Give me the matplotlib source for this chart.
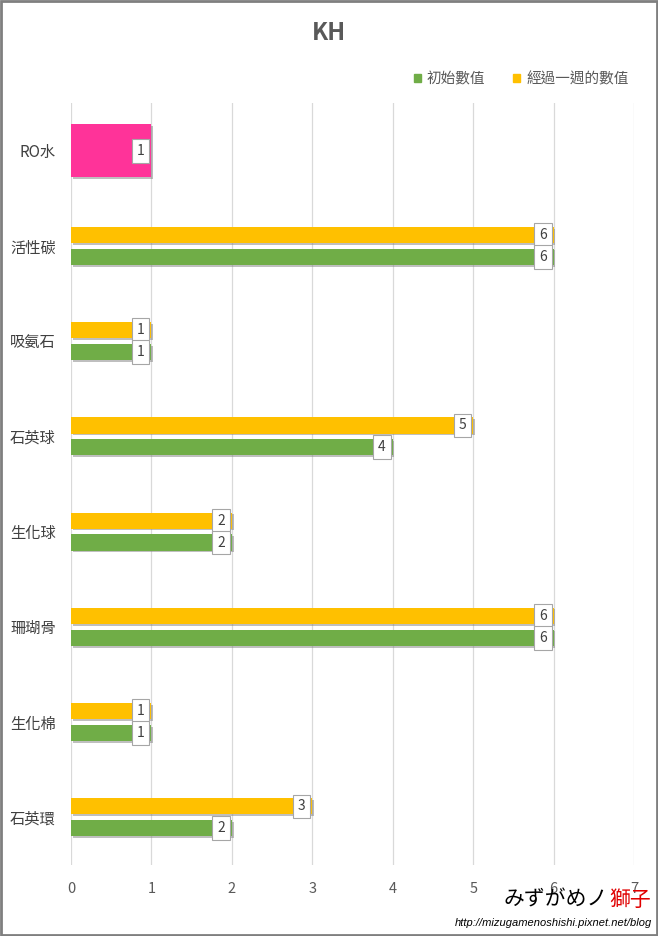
import numpy as np
import matplotlib
matplotlib.use("Agg")
import matplotlib.pyplot as plt
import matplotlib.patheffects as pe
from matplotlib.patches import Rectangle

plt.rcParams['font.family'] = ['Noto Sans CJK TC', 'DejaVu Sans']

# data
categories = ["RO水", "活性碳", "吸氨石", "石英球", "生化球", "珊瑚骨", "生化棉", "石英環"]
ro_value = 1
initial_vals = [None, 6, 1, 4, 2, 6, 1, 2]
week_vals = [None, 6, 1, 5, 2, 6, 1, 3]
legend_labels = ["初始數值", "經過一週的數值"]
x_ticks = [0, 1, 2, 3, 4, 5, 6, 7]

green = "#70AD47"
yellow = "#FFC000"
pink = "#FF3399"
gray_txt = "#595959"

fig = plt.figure(figsize=(6.58, 9.36), dpi=100)
ax = fig.add_axes([0.108, 0.0759, 0.8556, 0.814])

shadow = [pe.SimplePatchShadow(offset=(1.2, -1.2), shadow_rgbFace="#808080", alpha=0.5), pe.Normal()]

y = np.arange(len(categories))
h = 0.17
off = 0.115


def add_label(val, yc):
    ax.annotate(str(val), xy=(val, yc), xytext=(-5, 0), textcoords="offset points",
                ha="right", va="center", fontsize=10, color="#404040",
                bbox=dict(boxstyle="square,pad=0.35", fc="white", ec="#A6A6A6", lw=0.8),
                zorder=5)


# RO water - single series
ax.barh(y[0], ro_value, height=0.55, color=pink, path_effects=shadow, zorder=3)
add_label(ro_value, y[0])

for i in range(1, len(categories)):
    ax.barh(y[i] - off, week_vals[i], height=h, color=yellow, path_effects=shadow, zorder=3)
    ax.barh(y[i] + off, initial_vals[i], height=h, color=green, path_effects=shadow, zorder=3)
    add_label(week_vals[i], y[i] - off)
    add_label(initial_vals[i], y[i] + off)

ax.set_xlim(0, 7)
ax.set_ylim(7.5, -0.5)
ax.set_xticks(x_ticks)
ax.set_yticks(y)
ax.set_yticklabels(categories, fontsize=11, color="#404040")
ax.tick_params(axis="x", length=0, pad=12, labelsize=10.5, labelcolor=gray_txt)
ax.tick_params(axis="y", length=0, pad=11)
ax.grid(axis="x", color="#D9D9D9", lw=0.9, zorder=0)
ax.set_axisbelow(True)
for s in ax.spines.values():
    s.set_visible(False)

# legend
hl = [Rectangle((0, 0), 1, 1, color=green), Rectangle((0, 0), 1, 1, color=yellow)]
fig.legend(hl, legend_labels, loc="center right", bbox_to_anchor=(0.975, 0.9155), ncol=2,
           frameon=False, fontsize=10.5, handlelength=0.5, handleheight=0.5,
           handletextpad=0.4, columnspacing=1.9, labelcolor=gray_txt)

fig.text(0.5, 0.965, "KH", ha="center", va="center", fontsize=17, fontweight="bold", color=gray_txt)

# watermark
fig.text(0.924, 0.0385, "みずがめノ", ha="right", va="center", fontsize=15,
         family=["Noto Sans CJK JP", "DejaVu Sans"], color="black")
fig.text(0.926, 0.0385, "獅子", ha="left", va="center", fontsize=15,
         family=["Noto Sans CJK JP", "DejaVu Sans"], color="#E00000")
fig.text(0.991, 0.014, "http://mizugamenoshishi.pixnet.net/blog", ha="right", va="center",
         fontsize=8, style="italic", family=["Liberation Sans", "DejaVu Sans"], color="black")

# border
fig.patches.append(Rectangle((0.0015, 0.001), 0.997, 0.998, transform=fig.transFigure,
                             fill=False, ec="#7F7F7F", lw=2))

fig.savefig("out.png", dpi=100)
